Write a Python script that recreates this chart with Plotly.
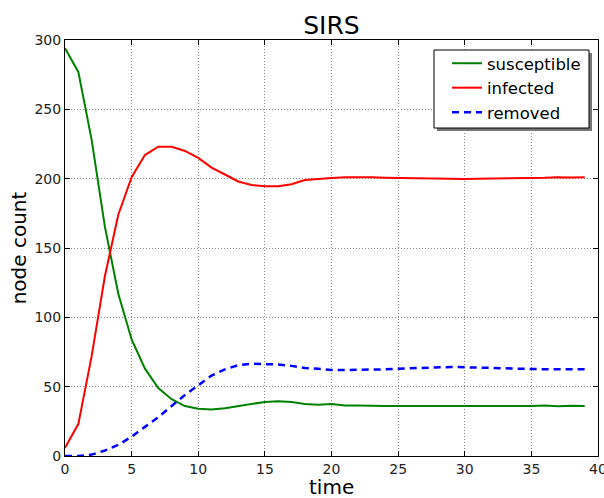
import plotly.graph_objects as go

time = list(range(40))
susceptible = [294, 277, 228, 165, 117, 84, 63, 49, 41, 36, 34, 33.5, 34.5, 36, 38, 39, 39.5, 39, 37.5, 37,
               37.5, 36.5, 36.5, 36, 36, 36, 36, 35.8, 36.2, 36, 36.2, 36, 36.3, 36.2, 36.3, 36, 36.5, 35.8, 36.3, 36]
infected = [6, 23, 72, 130, 174, 201, 217, 223, 223, 220, 215, 208, 203, 198, 195.5, 194.5, 194.5, 196, 199, 200,
            200.5, 201, 201.2, 201, 200.7, 200.5, 200.3, 199.8, 199.8, 199.7, 199.7, 200, 200, 200.3, 200.4, 200.5,
            200.6, 201, 200.8, 201]
removed = [0, 0, 1, 4, 8, 14, 21, 28, 36, 44, 51, 58, 62.5, 65.5, 66.5, 66.5, 66, 65, 63.5, 63, 62, 62, 62, 62.3,
           62.5, 63, 63.3, 64, 64, 64.2, 64, 63.7, 63.3, 63, 63, 62.8, 62.5, 62.5, 62.5, 62.5]

FONT = "DejaVu Sans"

fig = go.Figure()
fig.add_trace(go.Scatter(x=time, y=susceptible, mode="lines", name="susceptible",
                         line=dict(color="#008000", width=2)))
fig.add_trace(go.Scatter(x=time, y=infected, mode="lines", name="infected",
                         line=dict(color="#ff0000", width=2)))
fig.add_trace(go.Scatter(x=time, y=removed, mode="lines", name="removed",
                         line=dict(color="#0000ff", width=2.5, dash="7px,5px")))

axis_common = dict(showline=True, linecolor="black", linewidth=1, mirror="ticks",
                   ticks="inside", ticklen=5, tickcolor="black",
                   showgrid=True, gridcolor="#8a8a8a", griddash="1px,2px", gridwidth=1,
                   zeroline=False, ticklabeloverflow="allow", automargin=False,
                   tickfont=dict(family=FONT, size=14, color="#222222"))

# plot area in pixels: left 65, right 598, top 40, bottom 456
def px_x(p):
    return (p - 65) / 533

def px_y(p):
    return (456 - p) / 416

fig.update_layout(
    width=604, height=498,
    margin=dict(l=65, r=6, t=40, b=42, autoexpand=False),
    paper_bgcolor="white", plot_bgcolor="white",
    title=dict(text="SIRS", x=0.5488, xanchor="center", y=0.95, yanchor="middle",
               font=dict(family=FONT, size=25, color="black")),
    xaxis=dict(range=[0, 40], dtick=5, **axis_common),
    yaxis=dict(range=[0, 300], dtick=50, title=dict(text="node count", font=dict(family=FONT, size=20, color="black"),
                                                     standoff=2), **axis_common),
    legend=dict(x=px_x(447), y=px_y(46), xanchor="left", yanchor="top",
                bgcolor="rgba(0,0,0,0)", borderwidth=0,
                font=dict(family=FONT, size=16.5, color="black"), itemwidth=30,
                tracegroupgap=0),
    showlegend=True,
)

# x axis title
fig.add_annotation(text="time", xref="paper", yref="paper", x=0.5, y=px_y(487),
                   xanchor="center", yanchor="middle", showarrow=False, height=20,
                   font=dict(family=FONT, size=20, color="black"))

# legend shadow and box
fig.add_shape(type="rect", xref="paper", yref="paper",
              x0=px_x(437), x1=px_x(592), y0=px_y(131), y1=px_y(53),
              fillcolor="#777777", line=dict(width=0), layer="above")
fig.add_shape(type="rect", xref="paper", yref="paper",
              x0=px_x(434), x1=px_x(589), y0=px_y(128), y1=px_y(50),
              fillcolor="white", line=dict(color="black", width=1), layer="above")

fig.write_html("out.html")
